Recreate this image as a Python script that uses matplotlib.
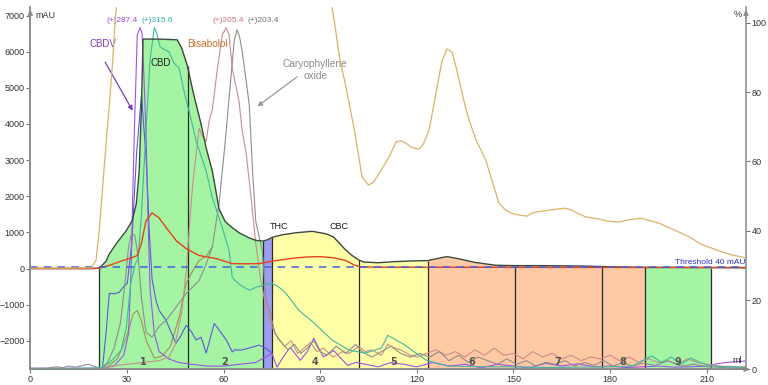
import numpy as np
import matplotlib.pyplot as plt

# fraction boundaries (ml) and their numbers
frac_edges = [21.35, 48.8, 72.1, 75.0, 101.9, 123.5, 150.4, 177.4, 190.8, 211.3]
frac_names = ['1', '2', '', '4', '5', '6', '7', '8', '9']

# main UV trace (mAU)
main_ml = [0, 10, 19, 21.35, 23.5, 24.5, 26.7, 29.8, 31.6, 32.9, 33.8, 34.5, 35, 40, 45.6,
           47, 48.8, 50.5, 53, 54.6, 56.5, 58.6, 60.5, 62.7, 65, 67.9, 70, 72.1, 73.5, 75.0,
           78, 82.5, 87.5, 91.8, 94, 95.8, 97.5, 99.9, 101.9, 103.5, 108, 113, 118.5, 123.5,
           126, 129.4, 133, 138, 144.5, 150.4, 157.9, 165, 171, 177.4, 182, 190.8, 200,
           211.3, 222.2]
main_mau = [0, 0, 0, 8, 200, 400, 690, 1050, 1320, 1790, 2700, 4500, 6350, 6350, 6330,
            6100, 5600, 4900, 4000, 3330, 2700, 1650, 1300, 1130, 980, 850, 780, 760, 790, 860,
            930, 990, 1030, 960, 880, 720, 550, 360, 240, 180, 160, 190, 210, 220,
            270, 330, 270, 170, 90, 80, 80, 75, 70, 55, 45, 30, 30, 25, 20]

# second UV channel (red)
red = [(0, 0), (19, 0), (21.4, 10), (25, 100), (28, 200), (31.6, 300), (33.2, 360), (34.5, 700),
       (35.9, 1320), (37.8, 1540), (40, 1400), (42.2, 1130), (45.3, 770), (48.4, 550), (52.4, 360),
       (57.7, 275), (62.7, 135), (67, 130), (71, 135), (76.3, 220), (82, 290), (86, 320),
       (89.6, 330), (94, 300), (98, 220), (100.5, 100), (102.5, 45), (110, 35), (130, 35),
       (160, 32), (190, 30), (222, 30)]

# solvent / gradient trace (% right axis)
tan = [(0, 29.2), (10, 29.2), (19, 29.3), (20.4, 31.5), (21.4, 40), (22.4, 52), (23.5, 65),
       (24.5, 76), (25.5, 88), (26.3, 100), (27, 108), (30, 118), (60, 125), (90, 118), (93, 108),
       (94.3, 101), (96, 90), (98, 81.5), (100, 72), (101, 67), (103, 55.5), (105, 53.2),
       (106.5, 54), (108.3, 56.6), (111.4, 61.3), (113.5, 65.6), (115, 66), (116.6, 65.3),
       (118.5, 64), (120.7, 63.6), (122, 65), (123.8, 69), (126, 80), (127.8, 89), (129.4, 92.5),
       (130.9, 91.6), (132, 88), (133.5, 82), (135, 76), (136.2, 72), (138.5, 66), (141.4, 60.4),
       (143.5, 54), (145.5, 48), (147.5, 46), (149.5, 45), (152, 44.5), (154.2, 44.2),
       (155.5, 45), (156.9, 45.4), (160, 45.8), (163, 46.2), (166.2, 46.5), (168, 46), (170, 45),
       (172.5, 44), (176.5, 43.4), (179, 42.8), (182.7, 42.5), (186, 43.2), (189.8, 43.6),
       (192, 43), (195.1, 42.2), (198, 41), (201, 39.8), (205.3, 37.9), (208, 36.2),
       (211.5, 35), (215, 33.8), (218, 33), (222, 32.2)]

# MS / extra channels
purple = [(0, -2760), (22, -2760), (26, -2700), (29, -2400), (30.5, -1800), (31.3, 0), (31.8, 2000),
          (32.3, 3800), (33.2, 6470), (34.1, 6670), (34.7, 6500), (35.4, 5000), (35.9, 3800),
          (36.5, 1500), (37.2, -600), (38.5, -1800), (40, -2300), (43, -2500), (46, -2600),
          (50, -2650), (55, -2700), (60, -2700), (65, -2650), (70, -2600), (75, -2350),
          (76.6, -2730), (78.5, -2450), (80.7, -2180), (83.8, -2540), (86, -2300), (88, -1930),
          (91, -2450), (94.2, -2270), (98.5, -2680), (101, -2600), (104, -2650), (108, -2720),
          (112, -2600), (116, -2650), (120, -2720), (125, -2600), (130, -2700), (135, -2650),
          (140, -2750), (145, -2650), (150, -2700), (155, -2750), (160, -2620), (165, -2700),
          (170, -2640), (175, -2720), (180, -2700), (185, -2740), (190, -2720), (195, -2700),
          (200, -2730), (205, -2720), (210, -2700), (213, -2640), (216, -2600), (219, -2580),
          (222, -2560)]

teal = [(0, -2780), (22.4, -2750), (25.5, -2530), (28.2, -2260), (29.8, -1630), (31.2, -410),
        (32.5, 100), (33.5, 300), (34.5, 1500), (35.9, 3800), (37.2, 5800), (38.5, 6670),
        (39.3, 6500), (40.2, 6150), (41, 6090), (43, 6000), (44.5, 5700), (46.2, 5540), (48, 4800),
        (50, 4100), (51.5, 3520), (54.6, 2700), (56.5, 1960), (59.6, 1130), (61.7, 500),
        (62.7, -250), (65, -450), (68, -600), (70, -520), (72, -470), (75, -410), (77, -500),
        (79.4, -690), (83.4, -1160), (88, -1500), (93.7, -1980), (99, -2260), (104, -2340),
        (109, -2200), (111, -1850), (113, -1950), (116, -2100), (118.5, -2260), (122.8, -2530),
        (126, -2620), (130, -2700), (140, -2720), (150, -2720), (160, -2740), (170, -2730),
        (180, -2720), (187, -2700), (190, -2550), (193, -2420), (196, -2600), (199, -2450),
        (202, -2650), (205, -2480), (208, -2600), (211, -2700), (222, -2740)]

pink = [(0, -2780), (22, -2780), (25, -2700), (30, -2650), (35, -2600), (40, -2550), (43, -2450),
        (45, -2100), (47, -1200), (48.5, 0), (49.5, 1300), (50.5, 2400), (51.5, 3170),
        (52.4, 3880), (53.5, 3650), (54.6, 3520), (55.5, 4080), (56.5, 4400), (58.1, 5540),
        (59.6, 6470), (60.8, 6670), (61.7, 6470), (62.7, 5540), (64.8, 4630), (65.8, 3800),
        (67, 3200), (68.5, 2000), (70, 700), (71.5, -300), (73, -1000), (75, -1600), (77, -1950),
        (79, -2150), (81, -2000), (83, -2350), (85, -2200), (87, -2050), (89, -2300), (91, -2200),
        (94, -2450), (97, -2300), (99, -2350), (102, -2150), (104, -2300), (106, -2250),
        (109, -2400), (111, -2100), (113, -2200), (115, -2250), (118, -2400), (120, -2450),
        (123, -2350), (126, -2250), (129, -2400), (132, -2300), (135, -2450), (138, -2250),
        (141, -2400), (144, -2200), (147, -2400), (150, -2350), (153, -2500), (156, -2300),
        (159, -2450), (162, -2350), (165, -2500), (168, -2400), (171, -2550), (174, -2450),
        (177, -2500), (180, -2400), (183, -2550), (186, -2450), (189, -2600), (192, -2500),
        (195, -2600), (198, -2550), (201, -2650), (204, -2500), (207, -2600), (210, -2650),
        (214, -2700), (222, -2720)]

gray = [(0, -2760), (5, -2760), (8, -2720), (10, -2740), (12, -2700), (14, -2730), (16, -2690),
        (18, -2650), (20, -2720), (22, -2760), (24, -2600), (26, -2200), (28, -1500),
        (29.5, -300), (30.5, 600), (31.5, 1000), (32.5, 900), (33.5, 300), (34.5, -800),
        (35.9, -1760), (37.8, -1900), (40, -1600), (42.2, -1430), (45, -1100), (48.4, -690),
        (52.4, -330), (54.5, 100), (56.5, 600), (58.6, 1800), (60.5, 3500), (62, 5000),
        (63.3, 6300), (64.2, 6610), (65, 6400), (65.8, 6000), (67.3, 5000), (68, 4500),
        (69, 2700), (70, 1300), (72, 500), (73.2, -880), (74, -1070), (76, -1800), (78, -2050),
        (80, -2250), (82, -2100), (84, -2350), (86, -2200), (88, -2000), (90, -2300), (92, -2400),
        (95, -2150), (98, -2350), (101, -2100), (103, -2300), (106, -2450), (109, -2300),
        (112, -2150), (115, -2350), (118, -2450), (121, -2350), (124, -2450), (127, -2300),
        (130, -2550), (133, -2400), (136, -2600), (139, -2450), (142, -2550), (145, -2650),
        (148, -2500), (151, -2650), (154, -2550), (157, -2700), (160, -2600), (163, -2650),
        (166, -2550), (169, -2700), (172, -2600), (175, -2680), (178, -2550), (181, -2700),
        (184, -2600), (187, -2700), (190, -2620), (194, -2680), (198, -2560), (202, -2700),
        (206, -2650), (210, -2720), (215, -2740), (222, -2760)]

blue = [(0, -2780), (21, -2780), (22.4, -2750), (23.5, -1800), (24.5, -690), (26, -700),
        (27.6, -660), (29, -500), (30.1, -410), (31.5, 700), (33, 3200), (34.5, 4800), (36, 3000),
        (37, 900), (37.8, -300), (39, -880), (40, -1160), (42.1, -1430), (45.2, -2070),
        (46.5, -1900), (48.4, -1570), (50, -1750), (51.5, -1980), (53, -1900), (54.6, -2340),
        (57.1, -1520), (59, -1750), (61, -2000), (62.7, -2310), (63.5, -2250), (65.4, -2260),
        (68, -2200), (71, -2120), (73, -2200), (75, -2340)]

olive = [(20, -2780), (24, -2720), (27, -2500), (29, -2100), (30.5, -1700), (32, -1250),
         (33.2, -1160), (34.5, -1450), (36, -2000), (38.5, -2480), (41, -2420), (43.5, -2150),
         (46.2, -1350), (48.4, -410), (50.5, -50), (52.4, 220), (54.5, 330), (56.5, 600)]

peak_labels = ['(+)287.4', '(+)315.6', '(+)205.4', '(+)203.4']
peak_label_ml = [28.6, 39.5, 61.4, 72.3]

Y_BOT, Y_TOP = -2789, 7238

fig = plt.figure(figsize=(7.68, 3.85), dpi=100)
ax = fig.add_axes([0.0395, 0.0408, 0.9318, 0.941])
ax.set_xlim(0, 222.2)
ax.set_ylim(Y_BOT, Y_TOP)

frac_colors = ['#A4F4A4', '#A4F4A4', '#9C9CF2', '#FFFFA8', '#FFFFA8',
               '#FFC9A4', '#FFC9A4', '#FFC9A4', '#A4F4A4']

mx = np.array(main_ml)
my = np.array(main_mau)
for i in range(len(frac_edges) - 1):
    a, b = frac_edges[i], frac_edges[i + 1]
    m = (mx >= a) & (mx <= b)
    ax.fill_between(mx[m], my[m], Y_BOT, color=frac_colors[i], lw=0, zorder=1)
    if frac_names[i]:
        ax.text((a + b) / 2, -2595, frac_names[i], ha='center', va='center', fontsize=7,
                fontweight='bold', color='#555555', zorder=6)
for e in frac_edges:
    top = my[np.argmin(np.abs(mx - e))]
    ax.vlines(e, Y_BOT, top, color='#2a2a2a', lw=0.9, zorder=2)

# channel traces
for data, col in [(olive, '#A89058'), (blue, '#5A5AD8'), (purple, '#A050E8'),
                  (pink, '#CC8C8C'), (gray, '#8E8E8E'), (teal, '#40B8A0')]:
    d = np.array(data)
    ax.plot(d[:, 0], d[:, 1], color=col, lw=0.8, zorder=3)

ax.plot(mx, my, color='#3A4A3A', lw=1.0, zorder=4)
r = np.array(red)
ax.plot(r[:, 0], r[:, 1], color='#E8401C', lw=1.0, zorder=4)
ax.axhline(40, color='#4460DD', lw=1.1, ls=(0, (5, 4)), zorder=5)

# right axis: %
ax2 = ax.twinx()
ax2.set_ylim(0, 104.6)
t = np.array(tan)
ax2.plot(t[:, 0], t[:, 1], color='#D8B468', lw=0.9)

for a_ in (ax, ax2):
    a_.spines['top'].set_visible(False)
    for s in ('left', 'bottom', 'right'):
        a_.spines[s].set_color('#8a8a8a')
        a_.spines[s].set_linewidth(1.1)
ax.spines['right'].set_visible(False)

ax.set_xticks(range(0, 211, 30))
ax.set_yticks(range(-2000, 7001, 1000))
ax2.set_yticks(range(0, 101, 20))
for a_ in (ax, ax2):
    a_.tick_params(direction='out', length=3, width=0.8, color='#777777', labelsize=6.5,
                   labelcolor='#333333', pad=1.2)
    for tl in a_.get_xticklabels() + a_.get_yticklabels():
        tl.set_family(['Liberation Sans', 'DejaVu Sans'])

# axis arrows
arr = dict(arrowstyle='-|>', color='#8a8a8a', lw=1.0, mutation_scale=7)
ax.annotate('', xy=(0, 1.0), xytext=(0, 0.96), xycoords='axes fraction', arrowprops=arr)
ax.annotate('', xy=(1, 1.0), xytext=(1, 0.96), xycoords='axes fraction', arrowprops=arr)
ax.annotate('', xy=(1.009, 0), xytext=(0.98, 0), xycoords='axes fraction', arrowprops=arr,
            annotation_clip=False)

lab = dict(family=['Liberation Sans', 'DejaVu Sans'])
ax.text(1.5, 6990, 'mAU', fontsize=6.5, color='#333333', va='center', **lab)
ax.text(219.5, 7020, '%', fontsize=6.5, color='#333333', va='center', ha='center', **lab)
ax.text(219.5, -2540, 'ml', fontsize=6.5, color='#333333', va='center', ha='center', **lab)
ax.text(222, 60, 'Threshold 40 mAU', fontsize=6, color='#3030C8', ha='right', va='bottom',
        zorder=6, **lab)

peak_colors = ['#A040E0', '#30B0B0', '#C87878', '#707070']
for s, x, c in zip(peak_labels, peak_label_ml, peak_colors):
    ax.text(x, 6878, s, fontsize=6, color=c, ha='center', va='center', **lab)

ax.text(22.4, 6213, 'CBDV', fontsize=7, color='#7A3FB0', ha='center', va='center', **lab)
ax.annotate('', xy=(32.2, 4300), xytext=(22.8, 5780),
            arrowprops=dict(arrowstyle='-|>', color='#7A3FB0', lw=0.9, mutation_scale=7))
ax.text(40.6, 5687, 'CBD', fontsize=7, color='#1a1a1a', ha='center', va='center', zorder=6, **lab)
ax.text(55.1, 6213, 'Bisabolol', fontsize=7.3, color='#C8702A', ha='center', va='center', **lab)
ax.text(88.5, 5490, 'Caryophyllene\noxide', fontsize=7.3, color='#8C8C8C', ha='center',
        va='center', linespacing=1.25, **lab)
ax.annotate('', xy=(69.8, 4440), xytext=(83.5, 5350),
            arrowprops=dict(arrowstyle='-|>', color='#9a9a9a', lw=0.9, mutation_scale=7))
ax.text(77.3, 1172, 'THC', fontsize=6.5, color='#1a1a1a', ha='center', va='center', **lab)
ax.text(95.9, 1172, 'CBC', fontsize=6.5, color='#1a1a1a', ha='center', va='center', **lab)

fig.savefig('out.png', dpi=100)
